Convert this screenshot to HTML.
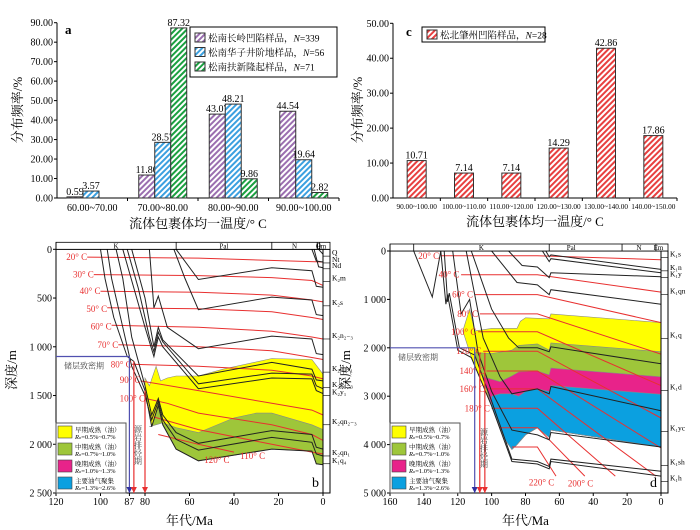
<!DOCTYPE html>
<html><head><meta charset="utf-8"><style>
body{margin:0;background:#fff}
svg{display:block;font-family:"Liberation Serif","Noto Serif CJK SC",serif}
</style></head><body>
<svg id="s" width="700" height="530" viewBox="0 0 700 530" xmlns="http://www.w3.org/2000/svg">
<defs>
<pattern id="pp" width="4" height="4" patternUnits="userSpaceOnUse" patternTransform="rotate(45)"><rect width="4" height="4" fill="#fff"/><rect width="2" height="4" fill="#9b6fb0"/></pattern>
<pattern id="pb" width="4" height="4" patternUnits="userSpaceOnUse" patternTransform="rotate(45)"><rect width="4" height="4" fill="#fff"/><rect width="2" height="4" fill="#3ba0e0"/></pattern>
<pattern id="pg" width="4" height="4" patternUnits="userSpaceOnUse" patternTransform="rotate(45)"><rect width="4" height="4" fill="#fff"/><rect width="2" height="4" fill="#1aa040"/></pattern>
<pattern id="pr" width="4" height="4" patternUnits="userSpaceOnUse" patternTransform="rotate(45)"><rect width="4" height="4" fill="#fff"/><rect width="2" height="4" fill="#e84040"/></pattern>
</defs>
<g id="ga"></g>
<g id="gc"></g>
<g id="gb"></g>
<g id="gd"></g>
</svg>
<script>
// ---- chart a data
const aCategories=["60.00~70.00","70.00~80.00","80.00~90.00","90.00~100.00"];
const aSeries1=[0.59,11.80,43.07,44.54];
const aSeries2=[3.57,28.57,48.21,19.64];
const aSeries3=[null,87.32,9.86,2.82];
const aTicks=[0,10,20,30,40,50,60,70,80,90];
const aLegend=["松南长岭凹陷样品，","松南华子井阶地样品，","松南扶新隆起样品，"];
const aN=["339","56","71"];
// ---- chart c data
const cCategories=["90.00~100.00","100.00~110.00","110.00~120.00","120.00~130.00","130.00~140.00","140.00~150.00"];
const cValues=[10.71,7.14,7.14,14.29,42.86,17.86];
const cTicks=[0,10,20,30,40,50];
// ---- chart b data (age Ma, depth m)
const bXTicks=[120,100,87,80,60,40,20,0];
const bYTicks=[0,500,1000,1500,2000,2500];
const bHorizons=[
[[100,0],[98,300],[94,700],[88,1100],[85,1150],[80,1450],[77,1820],[74,1600],[72,1800],[66,2050],[56,2170],[23,2050],[5,2070],[3,2200],[0,2210]],
[[97,0],[95,300],[90,800],[86,1200],[80,1500],[77,1750],[74,1560],[72,1750],[66,1950],[56,2060],[23,1930],[5,1980],[3,2100],[0,2120]],
[[93,0],[90,300],[86,900],[80,1400],[77,1700],[74,1530],[72,1700],[66,1880],[56,1990],[23,1860],[5,1900],[3,2030],[0,2050]],
[[90,0],[85,400],[80,800],[76,1100],[74,900],[72,1000],[56,1430],[23,1320],[5,1330],[3,1450],[0,1480]],
[[88,0],[83,400],[78,900],[76,1050],[74,850],[72,950],[56,1380],[23,1270],[5,1280],[3,1400],[0,1430]],
[[86,0],[80,500],[76,1000],[74,800],[72,930],[56,1300],[23,1160],[5,1230],[3,1340],[0,1350]],
[[78,0],[76,600],[74,480],[70,800],[56,1020],[23,890],[5,920],[3,1070],[0,1080]],
[[67,0],[62,300],[56,620],[23,490],[5,520],[3,670],[0,680]],
[[66,0],[56,310],[23,190],[5,220],[3,380],[0,390]],
[[5,0],[3,120],[0,130]],[[4,0],[2,180],[0,190]],[[2,0],[0,50]]];
const bYellowTop=[[80,1320],[78,1400],[75,1200],[73,1350],[70,1320],[66,1300],[56,1300],[45,1230],[23,1120],[5,1130],[0,1280]];
const bGreenTop=[[78,1820],[72,1780],[66,1830],[56,1880],[40,1730],[30,1680],[23,1680],[5,1800],[0,1850]];
const bIso=[[20,[[106,80],[56,90],[0,130]]],[30,[[103,260],[56,270],[23,290],[5,320],[0,370]]],[40,[[100,430],[56,440],[23,470],[5,520],[0,540]]],[50,[[97,600],[56,610],[23,640],[5,700],[0,720]]],[60,[[95,780],[56,800],[23,840],[5,900],[0,920]]],[70,[[92,980],[56,1000],[23,1040],[5,1110],[0,1130]]],[80,[[86,1180],[56,1200],[23,1240],[5,1300],[0,1330]]],[90,[[82,1350],[56,1450],[23,1580],[5,1650],[0,1700]]],[100,[[80,1530],[70,1580],[56,1680],[23,1800],[5,1900],[0,1960]]],[110,[[76,1720],[56,1850],[23,2000],[5,2080],[0,2100]]],[120,[[74,1900],[56,2000],[40,2080]]]];
const bStrata=[["Q",30],["Nt",100],["Nd",160],["K₂m",290],["K₂s",540],["K₂n₂₋₃",880],["K₂n₁₋₁",1220],["K₂y₂₋₃",1380],["K₂y₁",1460],["K₂qn₂₋₃",1760],["K₂qn₁",2080],["K₁q₄",2160]];
// ---- chart d data
const dXTicks=[160,140,120,100,80,60,40,20,0];
const dYTicks=[0,1000,2000,3000,4000,5000];
const dHorizons=[
[[146,0],[135,950],[130,0],[127,1100],[126,900],[120,2050],[112,2200],[100,3200],[88,4350],[73,4400],[66,4500],[65,4350],[0,4650]],
[[128,0],[126,1050],[125,870],[119,2000],[110,2150],[100,3100],[88,4300],[73,4350],[66,4450],[65,4300],[0,4550]],
[[123,0],[118,1300],[113,1000],[108,2100],[100,2900],[88,3700],[73,3800],[66,3900],[65,3750],[0,4050]],
[[115,0],[105,1800],[95,2600],[88,2950],[73,2850],[66,2950],[65,2800],[0,3300]],
[[112,0],[100,1200],[90,1800],[84,2000],[73,2000],[66,2080],[65,1980],[0,2330]],
[[100,0],[85,650],[73,700],[66,900],[65,800],[0,1100]],
[[90,0],[82,300],[73,330],[66,550],[65,450],[0,530]],
[[70,0],[66,220],[65,160],[0,450]],[[68,0],[66,120],[65,80],[0,380]]];
const dYellowTop=[[117,1650],[113,1200],[110,1650],[100,1600],[90,1600],[85,1600],[83,1450],[80,1380],[66,1400],[65,1300],[0,1480]];
const dGreenTop=[[110,2100],[100,2120],[88,2050],[84,1950],[73,1920],[66,2050],[65,1900],[0,2080]];
const dMagTop=[[105,2600],[95,2700],[88,2580],[84,2500],[73,2480],[66,2560],[65,2420],[0,2600]];
const dBlueTop=[[100,3000],[95,2950],[88,2950],[84,3000],[80,2900],[73,2850],[66,2900],[65,2780],[0,2960]];
const dBottom=[[117,1650],[112,2200],[100,3200],[92,3900],[88,4100],[85,4000],[80,3800],[73,3650],[66,3850],[65,3700],[0,4050]];
const dIso=[[20,[[130,100],[73,100],[0,180]]],[40,[[118,490],[73,490],[0,850]]],[60,[[110,900],[73,900],[0,1480]]],[80,[[107,1300],[73,1300],[0,2130]]],[100,[[108,1670],[73,1670],[0,2780]]],[120,[[105,2070],[73,2070],[0,3450]]],[140,[[103,2480],[73,2480],[0,4070]]],[160,[[103,2850],[73,2850],[3,4650]]],[180,[[100,3250],[73,3250],[27,4650]]],[200,[[95,3650],[73,3650],[45,4650]]],[220,[[88,4050],[73,4050],[62,4650]]]];
const dStrata=[["K₁s",50],["K₁n",330],["K₁y",470],["K₁qn",820],["K₁q",1730],["K₁d",2800],["K₁yc",3650],["K₁sh",4350],["K₁h",4680]];

const NS="http://www.w3.org/2000/svg";
function el(p,t,a,txt){const e=document.createElementNS(NS,t);for(const k in a)e.setAttribute(k,a[k]);if(txt!==undefined)e.textContent=txt;p.appendChild(e);return e;}

// ---------- bar chart a
(function(){
const g=document.getElementById('ga');
const x0=57,x1=339,y0=198,y1=22.7;
const ys=v=>y0-(v/90)*(y0-y1);
const gw=(x1-x0)/aCategories.length,bw=16;
el(g,'line',{x1:x0,y1:y1,x2:x0,y2:y0,stroke:'#000','stroke-width':1});
el(g,'line',{x1:x0,y1:y0,x2:x1,y2:y0,stroke:'#000','stroke-width':1});
aTicks.forEach(t=>{const y=ys(t);el(g,'line',{x1:x0-3,y1:y,x2:x0,y2:y,stroke:'#000'});
const tx=el(g,'text',{x:x0-4,y:y+3.5,'font-size':10,'text-anchor':'end'},t.toFixed(2));
});
const series=[[aSeries1,'url(#pp)'],[aSeries2,'url(#pb)'],[aSeries3,'url(#pg)']];
aCategories.forEach((c,i)=>{const cx=x0+gw*(i+0.5);
el(g,'line',{x1:x0+gw*(i+1),y1:y0,x2:x0+gw*(i+1),y2:y0+3,stroke:'#000'});
const lt=el(g,'text',{x:cx,y:211,'font-size':10,'text-anchor':'middle'},c);

let start=(i===0)?cx-gw/2+10:cx-bw*1.5;
series.forEach((s,k)=>{const v=s[0][i];if(v===null)return;
const bx=start+k*bw;
const r=el(g,'rect',{x:bx,y:ys(v),width:bw,height:y0-ys(v),fill:s[1],stroke:'#333','stroke-width':1});

el(g,'text',{x:bx+bw/2,y:ys(v)-2,'font-size':10,'text-anchor':'middle'},v.toFixed(2));});});
el(g,'text',{x:65,y:34,'font-size':13,'font-weight':'bold'},'a');
const yt=el(g,'text',{x:0,y:0,'font-size':13,'text-anchor':'middle',transform:'translate(22,110) rotate(-90)'},'分布频率/%');

const xt=el(g,'text',{x:198,y:228,'font-size':13,'text-anchor':'middle'},'流体包裹体均一温度/° C');

const lg=el(g,'g',{});
el(lg,'rect',{x:190,y:27,width:147,height:50,fill:'#fff',stroke:'#000','stroke-width':1});
const fills=['url(#pp)','url(#pb)','url(#pg)'];
aLegend.forEach((l,k)=>{const y=33+k*14.5;
el(lg,'rect',{x:195,y:y,width:10,height:9,fill:fills[k],stroke:'#333'});
const t=el(lg,'text',{x:208,y:y+8.5,'font-size':9.5},l);
el(t,'tspan',{'font-style':'italic'},'N');el(t,'tspan',{},'='+aN[k]);});
})();

// ---------- bar chart c
(function(){
const g=document.getElementById('gc');
const x0=393,x1=677,y0=198,y1=23.3;
const ys=v=>y0-(v/50)*(y0-y1);
const gw=(x1-x0)/cCategories.length,bw=19;
el(g,'line',{x1:x0,y1:y1,x2:x0,y2:y0,stroke:'#000'});
el(g,'line',{x1:x0,y1:y0,x2:x1,y2:y0,stroke:'#000'});
cTicks.forEach(t=>{const y=ys(t);el(g,'line',{x1:x0-3,y1:y,x2:x0,y2:y,stroke:'#000'});
el(g,'text',{x:x0-4,y:y+3.5,'font-size':10,'text-anchor':'end'},t.toFixed(2));});
cCategories.forEach((c,i)=>{const cx=x0+gw*(i+0.5);
el(g,'line',{x1:x0+gw*(i+1),y1:y0,x2:x0+gw*(i+1),y2:y0+3,stroke:'#000'});
el(g,'text',{x:cx,y:209,'font-size':7.3,'text-anchor':'middle'},c);
const v=cValues[i];
const r=el(g,'rect',{x:cx-bw/2,y:ys(v),width:bw,height:y0-ys(v),fill:'url(#pr)',stroke:'#333'});

el(g,'text',{x:cx,y:ys(v)-2,'font-size':10,'text-anchor':'middle'},v.toFixed(2));});
el(g,'text',{x:406,y:36,'font-size':13,'font-weight':'bold'},'c');
el(g,'text',{x:0,y:0,'font-size':13,'text-anchor':'middle',transform:'translate(362,110) rotate(-90)'},'分布频率/%');
el(g,'text',{x:535,y:226,'font-size':13,'text-anchor':'middle'},'流体包裹体均一温度/° C');
const lg=el(g,'g',{});
el(lg,'rect',{x:422,y:27,width:123,height:15,fill:'#fff',stroke:'#000'});
el(lg,'rect',{x:427,y:30,width:10,height:9,fill:'url(#pr)',stroke:'#333'});
const t=el(lg,'text',{x:440,y:38.5,'font-size':9.5},'松北肇州凹陷样品，');el(t,'tspan',{'font-style':'italic'},'N');el(t,'tspan',{},'=28');
})();

// ---------- burial charts
function burial(gid,cfg){
const g=document.getElementById(gid);
const xs=a=>cfg.xr-(a/cfg.amax)*(cfg.xr-cfg.xl);
const ys=d=>cfg.yt+(d/cfg.dmax)*(cfg.yb-cfg.yt);
const pts=arr=>arr.map(p=>xs(p[0]).toFixed(1)+','+ys(p[1]).toFixed(1)).join(' ');
const fill=(top,col,name)=>{const b=cfg.bottom.filter(p=>p[0]<=top[0][0]).slice().reverse();
const pg=el(g,'polygon',{points:pts(top.concat(b)),fill:col,stroke:'#888','stroke-width':0.6});
};
cfg.fills.forEach(f=>fill(f[0],f[1],f[2]));
cfg.iso.forEach(([t,l])=>{const pl=el(g,'polyline',{points:pts(l),fill:'none',stroke:'#e83030','stroke-width':1});
});
cfg.hor.forEach((h,i)=>{const pl=el(g,'polyline',{points:pts(h),fill:'none',stroke:'#222','stroke-width':1});
});
cfg.isoLabels.forEach(([t,a,d])=>el(g,'text',{x:xs(a),y:ys(d)+3,'font-size':9,fill:'#e83030','text-anchor':'end'},t+'° C'));
el(g,'rect',{x:cfg.xl,y:cfg.yt,width:cfg.xr-cfg.xl,height:cfg.yb-cfg.yt,fill:'none',stroke:'#000'});
el(g,'rect',{x:cfg.xr,y:cfg.yt,width:7,height:cfg.yb-cfg.yt,fill:'none',stroke:'#000'});
el(g,'rect',{x:cfg.xl,y:cfg.yt-7,width:cfg.xr-cfg.xl+7,height:7,fill:'#fff',stroke:'#000','stroke-width':0.8});
cfg.periods.forEach(([n,a0,a1])=>{el(g,'line',{x1:xs(a0),y1:cfg.yt-7,x2:xs(a0),y2:cfg.yt,stroke:'#000','stroke-width':0.8});
el(g,'text',{x:(xs(a0)+xs(a1))/2,y:cfg.yt-1,'font-size':7,'text-anchor':'middle'},n);});
cfg.strata.forEach(([n,d])=>{el(g,'line',{x1:cfg.xr,y1:ys(d+40*cfg.dmax/2500),x2:cfg.xr+7,y2:ys(d+40*cfg.dmax/2500),stroke:'#000','stroke-width':0.6});
el(g,'text',{x:cfg.xr+9,y:ys(d)+3,'font-size':7.5},n);});
cfg.xticks.forEach(t=>{el(g,'line',{x1:xs(t),y1:cfg.yb,x2:xs(t),y2:cfg.yb+3,stroke:'#000'});
const tx=el(g,'text',{x:xs(t),y:cfg.yb+12,'font-size':10,'text-anchor':'middle'},String(t));
});
cfg.yticks.forEach(t=>{el(g,'line',{x1:cfg.xl-3,y1:ys(t),x2:cfg.xl,y2:ys(t),stroke:'#000'});
const s=t>=1000?Math.floor(t/1000)+' '+String(t%1000).padStart(3,'0'):String(t);
el(g,'text',{x:cfg.xl-4,y:ys(t)+3.5,'font-size':10,'text-anchor':'end'},s);});
el(g,'text',{x:(cfg.xl+cfg.xr)/2,y:525,'font-size':13,'text-anchor':'middle'},'年代/Ma');
el(g,'text',{x:0,y:0,'font-size':13,'text-anchor':'middle',transform:'translate('+(cfg.xl-40)+',370) rotate(-90)'},'深度/m');
el(g,'text',{x:cfg.xr-11,y:cfg.yb-6,'font-size':14},cfg.letter);
const pa=cfg.purple;
el(g,'polyline',{points:pts([[cfg.amax,pa[1]],[pa[0],pa[1]],[pa[0],cfg.dmax]]),fill:'none',stroke:'#5050b0','stroke-width':1.2});
el(g,'text',{x:cfg.xl+8,y:ys(pa[1])+12,'font-size':8,fill:'#444'},'储层致密期');
el(g,'path',{d:`M${xs(pa[0])-3},${cfg.yb-6}L${xs(pa[0])+3},${cfg.yb-6}L${xs(pa[0])},${cfg.yb}Z`,fill:'#3030a0'});
cfg.red.forEach(([a,d])=>{el(g,'line',{x1:xs(a),y1:ys(d),x2:xs(a),y2:cfg.yb,stroke:'#e83030','stroke-width':1.2});
el(g,'path',{d:`M${xs(a)-3},${cfg.yb-6}L${xs(a)+3},${cfg.yb-6}L${xs(a)},${cfg.yb}Z`,fill:'#e83030'});});
el(g,'text',{x:cfg.vtx,y:cfg.vty,'font-size':8,fill:'#444','writing-mode':'tb'},'源岩排烃期');
const lx=cfg.xl,ly=cfg.yb-70;
const lg=el(g,'g',{});
el(lg,'rect',{x:lx,y:ly,width:70,height:70,fill:'#fff',stroke:'#555'});
const items=[['#ffff00','早期成熟（油）','0.5%~0.7%'],['#9ec63a','中期成熟（油）','0.7%~1.0%'],['#e8238a','晚期成熟（油）','1.0%~1.3%'],['#0ba0e0','主要油气聚集','1.3%~2.6%']];
items.forEach(([c,t,r],k)=>{const y=ly+3+k*17;
el(lg,'rect',{x:lx+2,y:y,width:14,height:12,fill:c,stroke:'#444','stroke-width':0.6});
el(lg,'text',{x:lx+19,y:y+6,'font-size':6.5},t);
const tt=el(lg,'text',{x:lx+19,y:y+13,'font-size':6.5},'');el(tt,'tspan',{'font-style':'italic'},'R');el(tt,'tspan',{'font-size':4.5},'o');el(tt,'tspan',{},'='+r);});
}
burial('gb',{xl:56,xr:323,yt:249.3,yb:493,amax:120,dmax:2500,letter:'b',
fills:[[bYellowTop,'#ffff00','yellow-zone-b'],[bGreenTop,'#9ec63a','green-zone-b']],bottom:bHorizons[0],
iso:bIso,hor:bHorizons,
isoLabels:[[20,106,80],[30,103,260],[40,100,430],[50,97,610],[60,95,790],[70,92,980],[80,86,1180],[90,82,1340],[100,80,1530],[110,26,2120],[120,42,2160]],
periods:[['K',120,66],['Pal',66,23],['N',23,2.6],['Q',2.6,1.5],['Em',1.5,0]],strata:bStrata,xticks:bXTicks,yticks:bYTicks,
purple:[87,1100],red:[[85,1150],[80,1450]],vtx:138,vty:425});
burial('gd',{xl:390,xr:661,yt:251,yb:493,amax:160,dmax:5000,letter:'d',
fills:[[dYellowTop,'#ffff00','yellow-zone-d'],[dGreenTop,'#9ec63a','green-zone-d'],[dMagTop,'#e8238a','magenta-zone-d'],[dBlueTop,'#0ba0e0','blue-zone-d']],bottom:dBottom,
iso:dIso,hor:dHorizons,
isoLabels:[[20,131,100],[40,119,490],[60,111,900],[80,108,1300],[100,109,1670],[120,106,2070],[140,104,2480],[160,104,2850],[180,101,3250],[200,40,4800],[220,63,4780]],
periods:[['',160,146],['K',146,66],['Pal',66,40],['N',23,3],['Em',3,0]],strata:dStrata,xticks:dXTicks,yticks:dYTicks,
purple:[110,2000],red:[[107,2100],[104,2100]],vtx:484,vty:428});
</script>
</body></html>
